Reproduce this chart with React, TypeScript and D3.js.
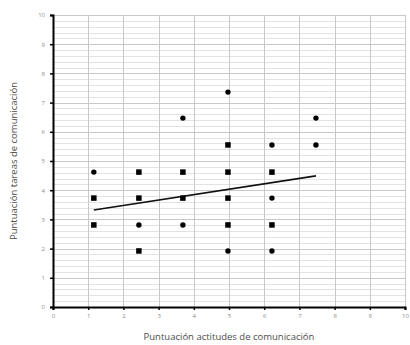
import { useEffect, useRef } from "react";
import * as d3 from "d3";

// scatter points (x, y, marker)
const squareX = [1.16, 1.16, 2.44, 2.44, 2.44, 3.69, 3.69, 4.97, 4.97, 4.97, 4.97, 6.22, 6.22];
const squareY = [3.73, 2.81, 4.62, 3.73, 1.92, 4.62, 3.73, 5.55, 4.62, 3.73, 2.81, 4.62, 2.81];
const circleX = [1.16, 2.44, 3.69, 3.69, 4.97, 4.97, 6.22, 6.22, 6.22, 7.47, 7.47];
const circleY = [4.62, 2.81, 6.47, 2.81, 7.36, 1.92, 5.55, 3.73, 1.92, 6.47, 5.55];

// trend line end points
const trendX = [1.16, 7.47];
const trendY = [3.32, 4.49];

const tickValues = [0, 1, 2, 3, 4, 5, 6, 7, 8, 9, 10];
const xTitle = "Puntuación actitudes de comunicación";
const yTitle = "Puntuación tareas de comunicación";

const W = 410;
const H = 345;

export default function App() {
  const svgRef = useRef<SVGSVGElement>(null);

  useEffect(() => {
    if (!svgRef.current) return;
    const svg = d3.select(svgRef.current);
    svg.selectAll("*").remove();

    const x = d3.scaleLinear().domain([0, 10]).range([53, 405]);
    const y = d3.scaleLinear().domain([0, 10]).range([307, 15]);

    // minor horizontal grid
    const minor = d3.range(0, 10.001, 0.2).filter((v) => Math.abs(v - Math.round(v)) > 0.01);
    svg
      .append("g")
      .selectAll("line")
      .data(minor)
      .join("line")
      .attr("x1", x(0))
      .attr("x2", x(10))
      .attr("y1", (d) => Math.round(y(d)) + 0.5)
      .attr("y2", (d) => Math.round(y(d)) + 0.5)
      .attr("stroke", "#e3e3e3")
      .attr("stroke-width", 1);

    // major grid
    const grid = svg.append("g");
    grid
      .selectAll("line.h")
      .data(tickValues.slice(1))
      .join("line")
      .attr("class", "h")
      .attr("x1", x(0))
      .attr("x2", x(10))
      .attr("y1", (d) => Math.round(y(d)) + 0.5)
      .attr("y2", (d) => Math.round(y(d)) + 0.5)
      .attr("stroke", "#c8c8c8");
    grid
      .selectAll("line.v")
      .data(tickValues.slice(1))
      .join("line")
      .attr("class", "v")
      .attr("y1", y(0))
      .attr("y2", y(10))
      .attr("x1", (d) => Math.round(x(d)) + 0.5)
      .attr("x2", (d) => Math.round(x(d)) + 0.5)
      .attr("stroke", "#c8c8c8");

    // axes
    const xAxis = svg
      .append("g")
      .attr("transform", `translate(0,${y(0)})`)
      .call(d3.axisBottom(x).tickValues(tickValues).tickSize(3).tickPadding(4));
    const yAxis = svg
      .append("g")
      .attr("transform", `translate(${x(0)},0)`)
      .call(d3.axisLeft(y).tickValues(tickValues).tickSize(3).tickPadding(5));
    [xAxis, yAxis].forEach((a) => {
      a.select(".domain").attr("stroke", "#000").attr("stroke-width", 2);
      a.selectAll(".tick line").attr("stroke", "#000").attr("stroke-width", 1.5);
      a.selectAll(".tick text")
        .attr("fill", "#8a8a8a")
        .attr("font-size", 6)
        .attr("font-family", "Open Sans, sans-serif");
    });

    // trend line
    svg
      .append("line")
      .attr("x1", x(trendX[0]))
      .attr("y1", y(trendY[0]))
      .attr("x2", x(trendX[1]))
      .attr("y2", y(trendY[1]))
      .attr("stroke", "#111")
      .attr("stroke-width", 1.6);

    // markers
    const sq = 5.5;
    svg
      .append("g")
      .selectAll("rect")
      .data(squareX.map((v, i) => [v, squareY[i]]))
      .join("rect")
      .attr("x", (d) => x(d[0]) - sq / 2)
      .attr("y", (d) => y(d[1]) - sq / 2)
      .attr("width", sq)
      .attr("height", sq)
      .attr("fill", "#000");
    svg
      .append("g")
      .selectAll("circle")
      .data(circleX.map((v, i) => [v, circleY[i]]))
      .join("circle")
      .attr("cx", (d) => x(d[0]))
      .attr("cy", (d) => y(d[1]))
      .attr("r", 2.7)
      .attr("fill", "#000");

    // axis titles
    svg
      .append("text")
      .attr("x", (x(0) + x(10)) / 2)
      .attr("y", 340)
      .attr("text-anchor", "middle")
      .attr("font-size", 9.5)
      .attr("font-family", "Open Sans, sans-serif")
      .attr("fill", "#4d4d4d")
      .text(xTitle);
    svg
      .append("text")
      .attr("transform", `translate(17,${(y(0) + y(10)) / 2}) rotate(-90)`)
      .attr("text-anchor", "middle")
      .attr("font-size", 9.5)
      .attr("font-family", "Open Sans, sans-serif")
      .attr("fill", "#4d4d4d")
      .text(yTitle);
  }, []);

  return (
    <div style={{ position: "absolute", left: 0, top: 0, background: "#fff" }}>
      <svg ref={svgRef} width={W} height={H} style={{ display: "block" }} />
    </div>
  );
}
